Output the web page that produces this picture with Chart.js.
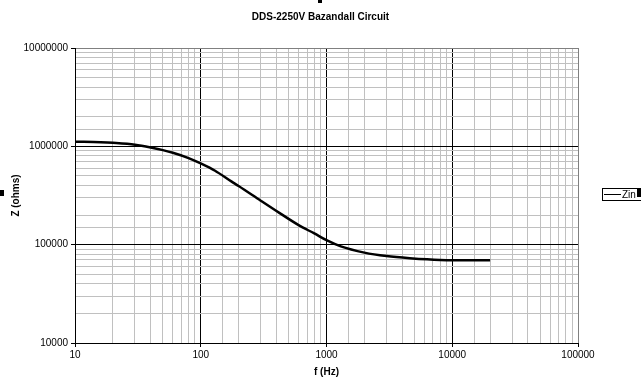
<!DOCTYPE html>
<html>
<head>
<meta charset="utf-8">
<script src="https://cdn.jsdelivr.net/npm/chart.js@4/dist/chart.umd.min.js"></script>
<style>
  html, body { margin: 0; padding: 0; background: #fff; }
  #wrap { width: 641px; height: 381px; position: relative; }
</style>
</head>
<body>
<div id="wrap"><canvas id="c" width="641" height="381"></canvas></div>
<script>
const chartTitle = 'DDS-2250V Bazandall Circuit';
const xTitle = 'f (Hz)';
const yTitle = 'Z (ohms)';
const seriesName = 'Zin';

const frequencies = [10, 16, 20, 30, 40, 50, 60, 80, 100, 130, 175, 200, 300, 400, 600, 800, 1000, 1300, 2000, 3000, 4600, 8000, 20000];
const impedance = [1115000, 1100000, 1085000, 1040000, 975000, 915000, 860000, 760000, 670000, 565000, 440000, 395000, 280000, 220000, 158000, 130000, 111000, 96000, 83000, 76500, 72800, 70000, 69300];

const xMajorTicks = [10, 100, 1000, 10000, 100000];
const yMajorTicks = [10000, 100000, 1000000, 10000000];

const FONT = '"Liberation Sans", Arial, sans-serif';
const isMajor = v => Math.abs(Math.log10(v) - Math.round(Math.log10(v))) < 1e-9;
const gridColor = ctx => {
  if (!ctx.tick) return '#c0c0c0';
  if (ctx.scale && ctx.tick.value >= ctx.scale.max) return '#808080';
  return isMajor(ctx.tick.value) ? '#000000' : '#c0c0c0';
};
const tickColor = ctx => (ctx.tick && isMajor(ctx.tick.value)) ? '#000000' : 'rgba(0,0,0,0)';

const decorations = {
  id: 'decorations',
  afterLayout(chart) {
    const t = chart.titleBlock;
    if (t) { t.left = 0; t.right = chart.width; t.width = chart.width; }
  },
  afterDraw(chart) {
    const ctx = chart.ctx;
    ctx.save();
    const ds = chart.data.datasets[0];
    ctx.fillStyle = '#fff';
    ctx.fillRect(602, 188, 39, 13);
    ctx.strokeStyle = '#000';
    ctx.lineWidth = 1;
    ctx.strokeRect(602.5, 188.5, 40, 12);
    ctx.beginPath();
    ctx.moveTo(604, 194.5);
    ctx.lineTo(621, 194.5);
    ctx.stroke();
    ctx.fillStyle = '#000';
    ctx.font = '10px ' + FONT;
    ctx.textBaseline = 'middle';
    ctx.textAlign = 'left';
    ctx.fillText(ds.label, 622, 195);
    ctx.fillRect(0, 190, 4, 6);
    ctx.fillRect(318, 0, 4, 3);
    ctx.fillRect(637, 189, 4, 8);
    ctx.restore();
  }
};

new Chart(document.getElementById('c'), {
  type: 'line',
  data: {
    datasets: [{
      label: seriesName,
      data: frequencies.map((f, i) => ({ x: f, y: impedance[i] })),
      borderColor: '#000000',
      backgroundColor: '#000000',
      borderWidth: 2.5,
      pointRadius: 0,
      cubicInterpolationMode: 'monotone',
      fill: false
    }]
  },
  options: {
    responsive: false,
    animation: false,
    devicePixelRatio: 1,
    layout: { padding: { left: 0, right: 63, top: 0, bottom: 0 } },
    plugins: {
      legend: { display: false },
      tooltip: { enabled: false },
      title: {
        display: true,
        text: chartTitle,
        color: '#000',
        font: { family: FONT, size: 10, weight: 'bold' },
        padding: { top: 11, bottom: 25 }
      }
    },
    scales: {
      x: {
        type: 'logarithmic',
        min: 10,
        max: 100000,
        afterFit: s => { s.height = 38; },
        border: { color: '#000', width: 1 },
        grid: { color: gridColor, tickColor: tickColor, tickLength: 4, lineWidth: 1 },
        ticks: {
          autoSkip: false,
          maxRotation: 0,
          minRotation: 0,
          padding: 2,
          color: '#000',
          font: { family: FONT, size: 10 },
          callback: v => xMajorTicks.includes(v) ? String(v) : ''
        },
        title: {
          display: true,
          text: xTitle,
          color: '#000',
          font: { family: FONT, size: 10, weight: 'bold' },
          padding: { top: 0, bottom: 3 }
        }
      },
      y: {
        type: 'logarithmic',
        min: 10000,
        max: 10000000,
        afterFit: s => { s.width = 75; },
        border: { color: '#000', width: 1 },
        grid: { color: gridColor, tickColor: tickColor, tickLength: 4, lineWidth: 1 },
        ticks: {
          autoSkip: false,
          padding: 3,
          color: '#000',
          font: { family: FONT, size: 10 },
          callback: v => yMajorTicks.includes(v) ? String(v) : ''
        },
        title: {
          display: true,
          text: yTitle,
          color: '#000',
          font: { family: FONT, size: 10, weight: 'bold' },
          padding: { top: 10, bottom: 0 }
        }
      }
    }
  },
  plugins: [decorations]
});
</script>
</body>
</html>
